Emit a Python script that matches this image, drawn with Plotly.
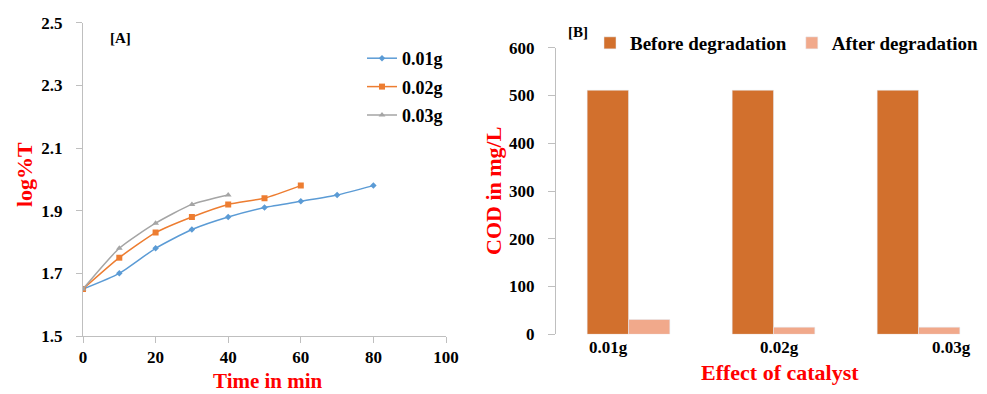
import plotly.graph_objects as go

# ---- Panel A data ----
time_01 = [0, 10, 20, 30, 40, 50, 60, 70, 80]
logT_01 = [1.65, 1.70, 1.78, 1.84, 1.88, 1.91, 1.93, 1.95, 1.98]
time_02 = [0, 10, 20, 30, 40, 50, 60]
logT_02 = [1.65, 1.75, 1.83, 1.88, 1.92, 1.94, 1.98]
time_03 = [0, 10, 20, 30, 40]
logT_03 = [1.65, 1.78, 1.86, 1.92, 1.95]

# ---- Panel B data ----
categories = ["0.01g", "0.02g", "0.03g"]
cod_before = [511, 511, 511]
cod_after = [31, 15, 15]

W, H = 987, 394
FONT = "Liberation Serif"
RED = "#FF0000"
AX = "#BFBFBF"

def px(x):
    return x / W

def py(y):
    return 1 - y / H

fig = go.Figure()

fig.add_trace(go.Scatter(x=time_01, y=logT_01, name="0.01g", mode="lines+markers",
                         line=dict(color="#5B9BD5", width=1.5, shape="spline", smoothing=0.6),
                         marker=dict(symbol="diamond", size=5, color="#5B9BD5"),
                         xaxis="x", yaxis="y", legend="legend", legendgroup="a"))
fig.add_trace(go.Scatter(x=time_02, y=logT_02, name="0.02g", mode="lines+markers",
                         line=dict(color="#ED7D31", width=1.5, shape="spline", smoothing=0.6),
                         marker=dict(symbol="square", size=6, color="#ED7D31"),
                         xaxis="x", yaxis="y", legend="legend", legendgroup="b"))
fig.add_trace(go.Scatter(x=time_03, y=logT_03, name="0.03g", mode="lines+markers",
                         line=dict(color="#A5A5A5", width=1.5, shape="spline", smoothing=0.6),
                         marker=dict(symbol="triangle-up", size=6, color="#A5A5A5"),
                         xaxis="x", yaxis="y", legend="legend", legendgroup="c"))

xb = list(range(len(categories)))
fig.add_trace(go.Bar(x=xb, y=cod_before, name="Before degradation", marker_color="#D2702D",
                     xaxis="x2", yaxis="y2", legend="legend2"))
fig.add_trace(go.Bar(x=xb, y=cod_after, name="After degradation", marker_color="#F1A98B",
                     xaxis="x2", yaxis="y2", legend="legend2"))

tickfont = dict(family=FONT, size=17, color="black", weight="bold")

def ann(text, x, y, size, color="black", angle=0, xanchor="center"):
    return dict(text="<b>%s</b>" % text, x=px(x), y=py(y), xref="paper", yref="paper",
                xanchor=xanchor, yanchor="middle", textangle=angle, showarrow=False,
                font=dict(family=FONT, size=size, color=color, weight="bold"))

# x tick label positions for panel B (pixels) as in the reference
label_px = [608, 779, 951]
annotations = [
    ann("[A]", 108, 38, 15, xanchor="left"),
    ann("[B]", 566, 32, 15, xanchor="left"),
    ann("log%T", 25, 175, 22, RED, -90),
    ann("Time in min", 268, 381, 21, RED),
    ann("COD in mg/L", 493, 191, 22, RED, -90),
    ann("Effect of catalyst", 780, 372, 22, RED),
]
for c, lx in zip(categories, label_px):
    annotations.append(ann(c, lx, 347, 17))

fig.update_layout(
    width=W, height=H, margin=dict(l=0, r=0, t=0, b=0, autoexpand=False),
    plot_bgcolor="white", paper_bgcolor="white",
    barmode="group", bargap=0.43, bargroupgap=0,
    xaxis=dict(domain=[px(83), px(446)], range=[0, 100], tick0=0, dtick=20, showgrid=False,
               zeroline=False, showline=True, linecolor=AX, linewidth=1, ticks="outside", ticklen=6,
               tickcolor=AX, tickfont=tickfont, ticklabelstandoff=0, anchor="y", automargin=False),
    yaxis=dict(domain=[py(336), py(22.7)], range=[1.5, 2.5], tick0=1.5, dtick=0.2, tickformat=".1f",
               showgrid=False, zeroline=False, showline=True, linecolor=AX, linewidth=1,
               ticks="outside", ticklen=6, tickcolor=AX, tickfont=tickfont, ticklabelstandoff=10,
               anchor="x", automargin=False),
    xaxis2=dict(domain=[px(556), 1.0], range=[-0.5, -0.5 + (W - 556) / 145.0], showgrid=False,
                zeroline=False, showline=False, showticklabels=False, ticks="", anchor="y2",
                automargin=False),
    yaxis2=dict(domain=[py(334.3), py(47.7)], range=[0, 600], tick0=0, dtick=100, showgrid=False,
                zeroline=False, showline=True, linecolor=AX, linewidth=1, ticks="outside",
                ticklen=7, tickcolor=AX, tickfont=tickfont, ticklabelstandoff=10, anchor="x2",
                automargin=False),
    legend=dict(x=px(362), y=py(40), xanchor="left", yanchor="top", orientation="v",
                font=dict(family=FONT, size=18, color="black", weight="bold"),
                tracegroupgap=2, itemwidth=30, bgcolor="rgba(0,0,0,0)"),
    legend2=dict(x=px(590), y=py(43), xanchor="left", yanchor="middle", orientation="h",
                 font=dict(family=FONT, size=19, color="black", weight="bold"),
                 itemwidth=30, bgcolor="rgba(0,0,0,0)"),
    annotations=annotations,
)

fig.write_html("out.html")
